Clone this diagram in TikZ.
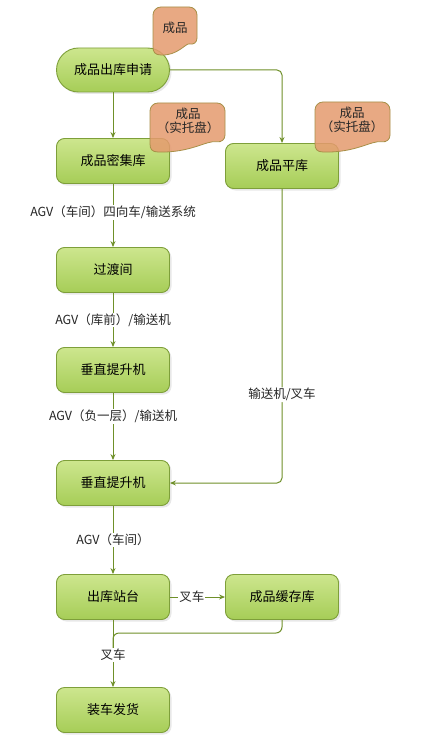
\documentclass[tikz,border=0pt]{standalone}
\usepackage{fontspec}
\setmainfont{Noto Sans CJK SC}
\usetikzlibrary{arrows.meta,shadows}
\definecolor{boxtop}{HTML}{CDE68E}
\definecolor{boxbot}{HTML}{A6CD57}
\definecolor{boxline}{HTML}{7E9F3A}
\definecolor{flow}{HTML}{6F9029}
\definecolor{tagfill}{HTML}{E59A6E}
\definecolor{tagline}{HTML}{A89048}
\tikzset{
  box/.style={draw=boxline, line width=0.9pt, top color=boxtop, bottom color=boxbot,
    rounded corners=8pt, minimum width=113pt, minimum height=45pt, inner sep=0pt,
    font=\fontsize{13}{15}\selectfont, text=black,
    drop shadow={opacity=0.18, shadow xshift=2pt, shadow yshift=-2pt}},
  pill/.style={box, rounded corners=22pt, minimum height=44pt},
  conn/.style={draw=flow, line width=1pt, -{Stealth[length=6pt,width=5pt]}},
  plain/.style={draw=flow, line width=1pt},
  lab/.style={fill=white, inner sep=1pt, font=\fontsize{12.5}{14}\selectfont, text=black!85},
  tagshape/.style={fill=tagfill, fill opacity=0.85, draw=tagline, line width=0.8pt},
  tagtext/.style={font=\fontsize{12.5}{14.5}\selectfont, text=black!85, align=center, inner sep=0pt}
}
\newcommand{\tagpath}[4]{% x1 y1 x2 y2
  \path[tagshape] (#1,#4-8) [rounded corners=8pt] -- (#1,#2) -- (#3,#2) -- (#3,#4-9) [sharp corners]
   .. controls ({#3-0.25*(#3-#1)},{#4-12}) and ({#1+0.55*(#3-#1)},{#4+1}) .. (#1+8,#4)
   .. controls (#1+2,#4) and (#1,#4-3) .. cycle;}
\begin{document}
\begin{tikzpicture}[x=1pt,y=-1pt]
\useasboundingbox (0,0) rectangle (431,754);
\fill[white] (0,0) rectangle (431,754);

\node[pill] (apply) at (113,70) {成品出库申请};
\node[box] (dense) at (113,161) {成品密集库};
\node[box] (flat) at (282,166) {成品平库};
\node[box] (trans) at (113,270) {过渡间};
\node[box] (lift1) at (113,370) {垂直提升机};
\node[box] (lift2) at (113,483) {垂直提升机};
\node[box] (dock) at (113,597) {出库站台};
\node[box] (cache) at (282,597) {成品缓存库};
\node[box] (ship) at (113,710) {装车发货};

% tags
\tagpath{153}{7}{197}{55}
\node[tagtext] (t1) at (175,28) {成品};
\tagpath{150}{103}{225}{152}
\node[tagtext] (t2) at (188,121) {成品\\（实托盘）};
\tagpath{315}{102}{390}{152}
\node[tagtext] (t3) at (352,120) {成品\\（实托盘）};

% connectors
\draw[conn] (apply) -- (dense);
\draw[conn, rounded corners=5pt] (apply.east) -| (flat.north);
\draw[conn] (dense) -- node[lab, pos=0.45] {AGV（车间）四向车/输送系统} (trans);
\draw[conn] (trans) -- node[lab, pos=0.5] {AGV（库前）/输送机} (lift1);
\draw[conn] (lift1) -- node[lab, pos=0.35] {AGV（负一层）/输送机} (lift2);
\draw[conn, rounded corners=5pt] (flat.south) |- node[lab, pos=0.35] {输送机/叉车} (lift2.east);
\draw[conn] (lift2) -- node[lab, pos=0.5] {AGV（车间）} (dock);
\draw[conn] (dock) -- node[lab, pos=0.4] {叉车} (cache);
\coordinate (merge) at (113,650);
\draw[plain, rounded corners=6pt] (cache.south) -- (282,633) -- (113,633) -- (merge);
\draw[conn] (dock) -- node[lab, pos=0.52] {叉车} (ship);
\end{tikzpicture}
\end{document}
